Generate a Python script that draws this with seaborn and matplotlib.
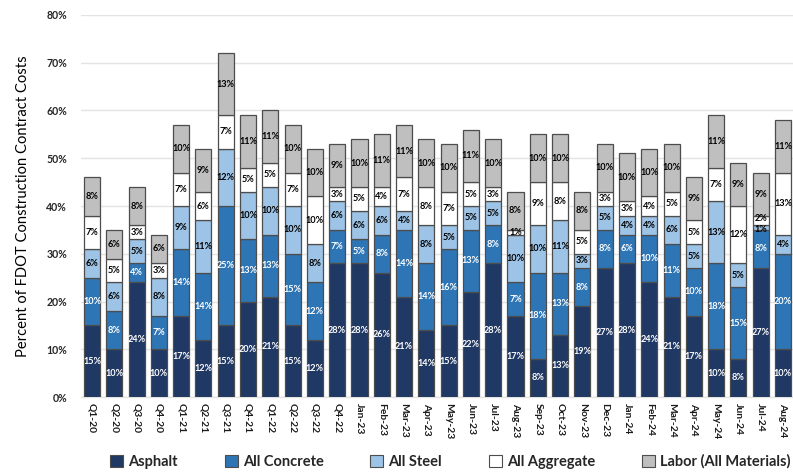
import numpy as np
import pandas as pd
import matplotlib
matplotlib.use("Agg")
import matplotlib.pyplot as plt
import seaborn as sns
from matplotlib.patches import Patch

periods = ["Q1-20", "Q2-20", "Q3-20", "Q4-20", "Q1-21", "Q2-21", "Q3-21", "Q4-21",
           "Q1-22", "Q2-22", "Q3-22", "Q4-22",
           "Jan-23", "Feb-23", "Mar-23", "Apr-23", "May-23", "Jun-23", "Jul-23",
           "Aug-23", "Sep-23", "Oct-23", "Nov-23", "Dec-23",
           "Jan-24", "Feb-24", "Mar-24", "Apr-24", "May-24", "Jun-24", "Jul-24", "Aug-24"]

asphalt   = [15, 10, 24, 10, 17, 12, 15, 20, 21, 15, 12, 28, 28, 26, 21, 14, 15, 22, 28,
             17, 8, 13, 19, 27, 28, 24, 21, 17, 10, 8, 27, 10]
concrete  = [10, 8, 4, 7, 14, 14, 25, 13, 13, 15, 12, 7, 5, 8, 14, 14, 16, 13, 8,
             7, 18, 13, 8, 8, 6, 10, 11, 10, 18, 15, 8, 20]
steel     = [6, 6, 5, 8, 9, 11, 12, 10, 10, 10, 8, 6, 6, 6, 4, 8, 5, 5, 5,
             10, 10, 11, 3, 5, 4, 4, 6, 5, 13, 5, 1, 4]
aggregate = [7, 5, 3, 3, 7, 6, 7, 5, 5, 7, 10, 3, 5, 4, 7, 8, 7, 5, 3,
             1, 9, 8, 5, 3, 3, 4, 5, 5, 7, 12, 2, 13]
labor     = [8, 6, 8, 6, 10, 9, 13, 11, 11, 10, 10, 9, 10, 11, 11, 10, 10, 11, 10,
             8, 10, 10, 8, 10, 10, 10, 10, 9, 11, 9, 9, 11]

series_names = ["Asphalt", "All Concrete", "All Steel", "All Aggregate", "Labor (All Materials)"]
series_values = [asphalt, concrete, steel, aggregate, labor]
fill_colors = ["#203864", "#2E75B6", "#9DC3E6", "#FFFFFF", "#BFBFBF"]
text_colors = ["white", "white", "black", "black", "black"]

FONT = "Lato"
sns.set_theme(style="white")
plt.rcParams["font.family"] = [FONT, "DejaVu Sans"]

fig = plt.figure(figsize=(7.93, 4.74), dpi=100)
ax = fig.add_axes([0.102, 0.1624, 0.898, 0.806])

bottom = np.zeros(len(periods))
prev_vals = None
for k, (name, vals, fc, tc) in enumerate(zip(series_names, series_values, fill_colors, text_colors)):
    frac = np.array(vals, dtype=float) / 100.0
    df = pd.DataFrame({"period": periods, "share": frac})
    sns.barplot(data=df, x="period", y="share", order=periods, color=fc,
                saturation=1, width=0.72, bottom=bottom, edgecolor="#4D4D4D",
                linewidth=0.9, ax=ax, zorder=3)
    nxt = series_values[k + 1] if k + 1 < len(series_values) else None
    for i, (v, b) in enumerate(zip(vals, bottom)):
        y = b + v / 200.0
        # keep labels of very thin neighbouring segments from colliding
        if v <= 1 and nxt is not None and nxt[i] <= 3:
            y -= 0.004
        if prev_vals is not None and prev_vals[i] <= 1 and v <= 3:
            y += 0.004
        ax.text(i, y, f"{v}%", ha="center", va="center",
                fontsize=6.6, fontweight="bold", color=tc, zorder=5)
    bottom = bottom + frac
    prev_vals = vals

ax.set_ylim(0, 0.8)
ax.set_xlim(-0.5, 31.45)
ax.set_yticks(np.arange(0, 0.81, 0.1))
ax.set_yticklabels([f"{int(round(t * 100))}%" for t in np.arange(0, 0.81, 0.1)],
                   fontsize=7.6, fontweight="bold", color="#262626")
ax.set_xticks(range(len(periods)))
ax.set_xticklabels(periods, rotation=270, ha="center", va="top",
                   fontsize=7.4, fontweight="bold", color="#1a1a1a")
ax.tick_params(axis="both", length=0, pad=4)
ax.tick_params(axis="y", pad=10)
ax.grid(axis="y", color="#E3E3E3", linewidth=1.0, zorder=0)
ax.set_axisbelow(True)
for s in ["top", "right", "left"]:
    ax.spines[s].set_visible(False)
ax.spines["bottom"].set_color("#E3E3E3")
ax.spines["bottom"].set_linewidth(1.0)

ax.set_xlabel("")
ax.set_ylabel("Percent of FDOT Construction Contract Costs", fontsize=10.6,
              color="black", labelpad=12)

handles = [Patch(facecolor=fc, edgecolor="#4D4D4D", linewidth=0.8) for fc in fill_colors]
fig.legend(handles, series_names, loc="center", bbox_to_anchor=(0.568, 0.026),
           ncol=5, frameon=False, handlelength=0.9, handleheight=0.9,
           handletextpad=0.35, columnspacing=3.2,
           prop={"family": FONT, "weight": "bold", "size": 10.5})

fig.savefig("out.png", dpi=100, facecolor="white")
